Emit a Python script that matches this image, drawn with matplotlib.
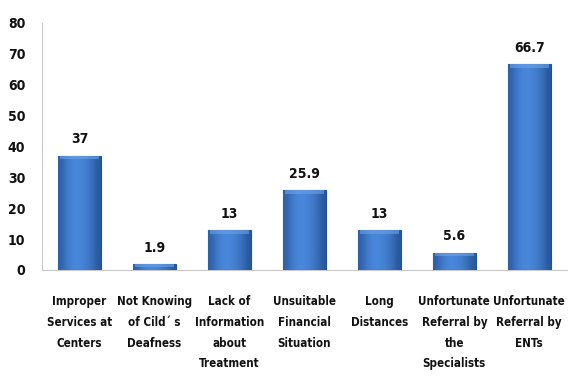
import numpy as np
import matplotlib.pyplot as plt
from matplotlib import font_manager
from matplotlib.colors import LinearSegmentedColormap

categories = [
    "Improper\nServices at\nCenters",
    "Not Knowing\nof Cild\u00b4 s\nDeafness",
    "Lack of\nInformation\nabout\nTreatment",
    "Unsuitable\nFinancial\nSituation",
    "Long\nDistances",
    "Unfortunate\nReferral by\nthe\nSpecialists",
    "Unfortunate\nReferral by\nENTs",
]
values = [37, 1.9, 13, 25.9, 13, 5.6, 66.7]
value_labels = ["37", "1.9", "13", "25.9", "13", "5.6", "66.7"]
y_ticks = [0, 10, 20, 30, 40, 50, 60, 70, 80]

# prefer a narrow face if one is around
narrow = None
for f in font_manager.fontManager.ttflist:
    if "Narrow" in f.name or "Condensed" in f.name or str(f.stretch) in ("condensed", "semi-condensed", "75", "87"):
        narrow = f
        break
if narrow is not None:
    family = narrow.name
    stretch = narrow.stretch
else:
    family = "Liberation Sans"
    stretch = "normal"
plt.rcParams["font.family"] = [family, "DejaVu Sans"]

fig = plt.figure(figsize=(5.71, 3.76), dpi=100)
ax = fig.add_axes([0.0736, 0.282, 0.919, 0.657])

x = np.arange(len(categories))
width = 0.57
bars = ax.bar(x, values, width=width, color="#3b74c6", edgecolor="#24508f",
              linewidth=0.8, zorder=2)

# horizontal shading to give the bars a bevelled look
shade = np.array([[0.55, 0.8, 0.95, 1.0, 0.95, 0.85, 0.7, 0.45]])
cmap = LinearSegmentedColormap.from_list("bar", ["#1f4a8a", "#4a88dc"])
for b in bars:
    bx, by = b.get_x(), b.get_y()
    bw, bh = b.get_width(), b.get_height()
    im = ax.imshow(shade, cmap=cmap, vmin=0.3, vmax=1.0, aspect="auto",
                   extent=(bx, bx + bw, by, by + bh), interpolation="bicubic",
                   zorder=3)
    im.set_clip_path(b)
    # lighter top edge
    top = min(1.2, bh * 0.5)
    ax.fill_between([bx + bw * 0.04, bx + bw * 0.96], by + bh - top, by + bh,
                    color="#6da2e8", alpha=0.6, linewidth=0, zorder=4)

txt = dict(fontweight="bold", color="#111111", fontstretch=stretch)
for xi, v, lab in zip(x, values, value_labels):
    ax.text(xi, v + 3.0, lab, ha="center", va="bottom", fontsize=10, **txt)

ax.set_xlim(-0.5, len(categories) - 0.5)
ax.set_ylim(0, 80)
ax.set_yticks(y_ticks)
ax.set_yticklabels([str(t) for t in y_ticks], fontsize=10, **txt)
ax.set_xticks(x)
ax.set_xticklabels(categories, fontsize=8.3, linespacing=1.78, va="top", **txt)
ax.tick_params(axis="both", length=0)
ax.tick_params(axis="x", pad=18)
ax.tick_params(axis="y", pad=12)

for side in ["top", "right"]:
    ax.spines[side].set_visible(False)
ax.spines["left"].set_color("#c8c8c8")
ax.spines["bottom"].set_color("#c8c8c8")

fig.savefig("out.png", dpi=100)
